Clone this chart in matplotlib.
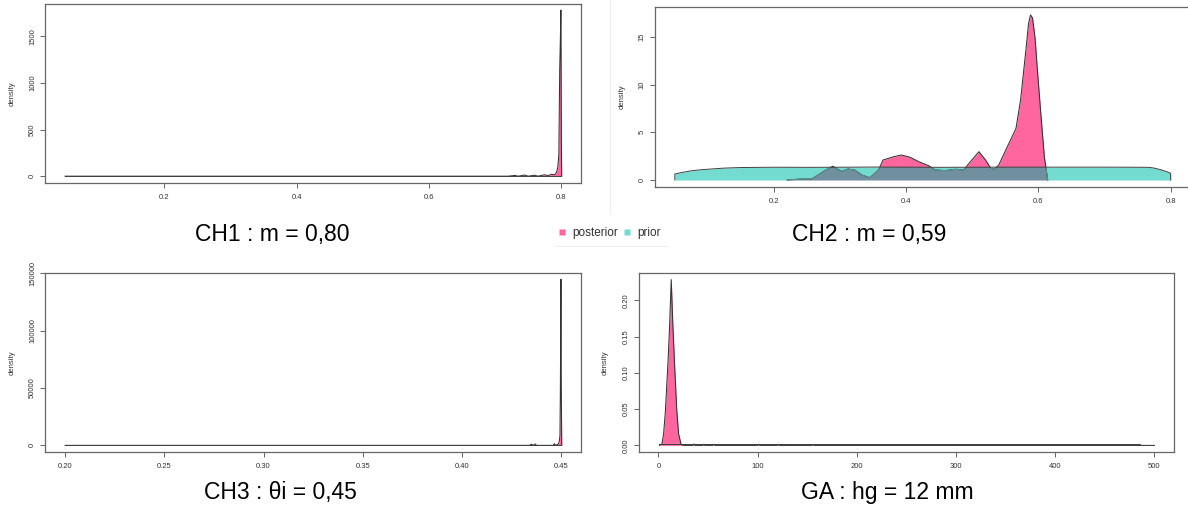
import matplotlib
matplotlib.use("Agg")
import matplotlib.pyplot as plt
from matplotlib.lines import Line2D

plt.rcParams['font.family'] = ['Liberation Sans', 'DejaVu Sans']

# ---------------- data ----------------
# CH1 : m
ch1_post_x = [0.05, 0.72, 0.73, 0.735, 0.745, 0.75, 0.76, 0.765, 0.775, 0.78, 0.785, 0.79,
              0.793, 0.795, 0.7965, 0.7978, 0.7988, 0.7993, 0.7996, 0.8003, 0.8008]
ch1_post_y = [0, 0, 8, 0, 12, 0, 10, 0, 15, 5, 20, 15,
              40, 100, 230, 1140, 1465, 1660, 1780, 400, 0]
ch1_prior_x = [0.05, 0.8]
ch1_prior_y = [1.33, 1.33]
ch1_xticks = [0.2, 0.4, 0.6, 0.8]
ch1_xlabels = ['0.2', '0.4', '0.6', '0.8']
ch1_yticks = [0, 500, 1000, 1500]
ch1_ylabels = ['0', '500', '1000', '1500']

# CH2 : m
ch2_post_x = [0.22, 0.24, 0.257, 0.275, 0.289, 0.297, 0.303, 0.312, 0.322, 0.333, 0.345,
              0.358, 0.365, 0.381, 0.393, 0.406, 0.419, 0.434, 0.444, 0.459, 0.474, 0.487,
              0.495, 0.51, 0.52, 0.528, 0.533, 0.54, 0.553, 0.566, 0.573, 0.581, 0.585,
              0.588, 0.591, 0.595, 0.598, 0.604, 0.609, 0.614]
ch2_post_y = [0, 0.1, 0.1, 0.9, 1.45, 1.1, 0.9, 1.15, 1.05, 0.52, 0.24,
              1.05, 2.1, 2.44, 2.62, 2.38, 1.92, 1.5, 1.05, 0.98, 1.12, 1.05,
              1.75, 2.97, 2.1, 1.22, 1.12, 1.57, 3.5, 5.4, 8.4, 13.6, 16.4,
              17.3, 17.0, 14.8, 11.9, 6.6, 2.4, 0]
ch2_prior_x = [0.05, 0.06, 0.075, 0.09, 0.104, 0.125, 0.15, 0.2, 0.25, 0.3, 0.35, 0.4,
               0.45, 0.5, 0.55, 0.6, 0.65, 0.7, 0.74, 0.767, 0.775, 0.785, 0.795, 0.8]
ch2_prior_y = [0.63, 0.78, 0.97, 1.08, 1.15, 1.25, 1.31, 1.34, 1.33, 1.34, 1.36, 1.35,
               1.33, 1.34, 1.35, 1.35, 1.35, 1.35, 1.34, 1.33, 1.25, 1.08, 0.85, 0.70]
ch2_xticks = [0.2, 0.4, 0.6, 0.8]
ch2_xlabels = ['0.2', '0.4', '0.6', '0.8']
ch2_yticks = [0, 5, 10, 15]
ch2_ylabels = ['0', '5', '10', '15']

# CH3 : theta_i
ch3_post_x = [0.2, 0.434, 0.435, 0.436, 0.437, 0.4375, 0.438, 0.446, 0.4466, 0.4472,
              0.4485, 0.449, 0.4494, 0.4496, 0.4498, 0.4499, 0.45, 0.4503]
ch3_post_y = [0, 0, 1000, 0, 1200, 0, 0, 0, 1500, 0,
              1000, 3000, 8700, 47000, 112000, 145000, 60000, 0]
ch3_prior_x = [0.2, 0.45]
ch3_prior_y = [4, 4]
ch3_xticks = [0.20, 0.25, 0.30, 0.35, 0.40, 0.45]
ch3_xlabels = ['0.20', '0.25', '0.30', '0.35', '0.40', '0.45']
ch3_yticks = [0, 50000, 100000, 150000]
ch3_ylabels = ['0', '50000', '100000', '150000']

# GA : hg
ga_post_x = [1.2, 3.6, 5.3, 7.0, 9.7, 11.3, 13.0, 14.7, 16.3, 18.5, 20.4, 22.8, 25,
             35, 36, 37, 45, 46, 47, 55, 56, 57, 100, 101, 102, 120, 121, 122,
             155, 156, 157, 500]
ga_post_y = [0, 0.002, 0.016, 0.045, 0.114, 0.163, 0.2285, 0.163, 0.114, 0.05, 0.016, 0.002, 0,
             0, 0.002, 0, 0, 0.0015, 0, 0, 0.0015, 0, 0, 0.0015, 0, 0, 0.0015, 0,
             0, 0.001, 0, 0]
ga_prior_x = [1, 485]
ga_prior_y = [0.002, 0.002]
ga_xticks = [0, 100, 200, 300, 400, 500]
ga_xlabels = ['0', '100', '200', '300', '400', '500']
ga_yticks = [0, 0.05, 0.10, 0.15, 0.20]
ga_ylabels = ['0.00', '0.05', '0.10', '0.15', '0.20']

titles = ['CH1 : m = 0,80', 'CH2 : m = 0,59', 'CH3 : θi = 0,45', 'GA : hg = 12 mm']
legend_labels = ['posterior', 'prior']

# ---------------- style ----------------
PINK = '#FF659E'
TEAL = '#74DBD1'
SLATE = '#71909F'
EDGE = '#333333'
FRAME = '#666666'
TXT = '#333333'

W, H = 1188, 520
fig = plt.figure(figsize=(W / 100, H / 100), dpi=100)


def px_axes(left, top, right, bottom):
    return fig.add_axes([left / W, 1 - bottom / H, (right - left) / W, (bottom - top) / H])


def draw(ax, px, py, qx, qy, xlim, ylim, xt, xl, yt, yl, width_px):
    ax.fill_between(px, py, 0, color=PINK, lw=0, zorder=1)
    prior = ax.fill_between(qx, qy, 0, color=TEAL, lw=0, zorder=2)
    prior_path = prior.get_paths()[0]
    over = ax.fill_between(px, py, 0, color=SLATE, lw=0, zorder=3)
    over.set_clip_path(prior_path, ax.transData)
    ox = [px[0]] + list(px) + [px[-1]]
    oy = [0] + list(py) + [0]
    ax.plot(ox, oy, color=EDGE, lw=0.75, zorder=4)
    inner, = ax.plot(ox, oy, color='#5d9294', lw=0.8, zorder=4.5)
    inner.set_clip_path(prior_path, ax.transData)
    ax.plot([qx[0]] + list(qx) + [qx[-1]], [0] + list(qy) + [0], color='#404040', lw=0.7, zorder=5)
    ax.set_xlim(*xlim)
    ax.set_ylim(*ylim)
    ax.set_xticks(xt, xl)
    ax.set_yticks(yt, yl, rotation=90, va='center')
    for s in ax.spines.values():
        s.set_color(FRAME)
        s.set_linewidth(0.9)
    ax.tick_params(axis='both', direction='out', length=3.6, width=0.7, color=FRAME,
                   labelsize=5.5, labelcolor=TXT)
    ax.tick_params(axis='x', pad=4.5)
    ax.tick_params(axis='y', pad=3.0)
    ax.set_ylabel('density', fontsize=5.5, color=TXT, va='center')
    ax.yaxis.set_label_coords(-33 / width_px, 0.5)


ax1 = px_axes(45.3, 4, 581, 182.7)
draw(ax1, ch1_post_x, ch1_post_y, ch1_prior_x, ch1_prior_y, (0.02, 0.83), (-70, 1845),
     ch1_xticks, ch1_xlabels, ch1_yticks, ch1_ylabels, 581 - 45.3)

ax2 = px_axes(655, 7.3, 1190.5, 186.7)
draw(ax2, ch2_post_x, ch2_post_y, ch2_prior_x, ch2_prior_y, (0.02, 0.83), (-0.7, 18.1),
     ch2_xticks, ch2_xlabels, ch2_yticks, ch2_ylabels, 1190.5 - 655)

ax3 = px_axes(45.3, 273, 581, 452)
draw(ax3, ch3_post_x, ch3_post_y, ch3_prior_x, ch3_prior_y, (0.19, 0.46), (-5800, 150400),
     ch3_xticks, ch3_xlabels, ch3_yticks, ch3_ylabels, 581 - 45.3)

ax4 = px_axes(638.5, 273, 1174.3, 452)
draw(ax4, ga_post_x, ga_post_y, ga_prior_x, ga_prior_y, (-20, 520), (-0.0091, 0.2376),
     ga_xticks, ga_xlabels, ga_yticks, ga_ylabels, 1174.3 - 638.5)

# captions
title_pos = [(272, 234), (869, 235), (280, 493), (887, 493)]
for (x, y), t in zip(title_pos, titles):
    fig.text(x / W, 1 - y / H, t, ha='center', va='center', fontsize=16.5, color='black')

# legend
handles = [Line2D([], [], marker='s', ls='none', ms=3.8, mfc=PINK, mec='none'),
           Line2D([], [], marker='s', ls='none', ms=3.8, mfc=TEAL, mec='none')]
leg = fig.legend(handles, legend_labels, loc='center', bbox_to_anchor=(609.6 / W, 1 - 233 / H),
                 ncol=2, frameon=False, fontsize=8.5, handlelength=0.6, handletextpad=0.55,
                 columnspacing=0.45, borderpad=0, borderaxespad=0)
for t in leg.get_texts():
    t.set_color(TXT)

# faint slide boundaries
fig.add_artist(Line2D([610 / W, 610 / W], [1, 1 - 214 / H], color='#efefef', lw=0.8,
                      transform=fig.transFigure))
fig.add_artist(Line2D([555 / W, 667 / W], [1 - 246 / H, 1 - 246 / H], color='#efefef', lw=0.8,
                      transform=fig.transFigure))

fig.savefig('out.png', dpi=100)
